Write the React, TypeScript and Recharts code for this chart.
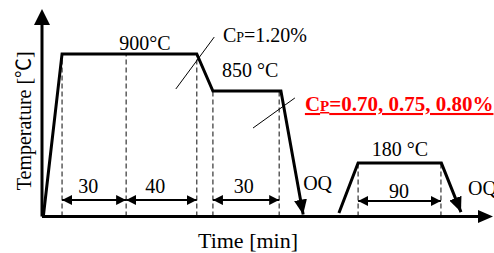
import React from 'react';
import { ComposedChart, Line, Scatter, XAxis, YAxis, ReferenceLine } from 'recharts';

// Schematic heat-treatment profile (x: schematic time position, y: schematic temperature level)
const profileHeat = [
  { x: 0.3, y: 0 },
  { x: 4.6, y: 84.9 },
  { x: 35.5, y: 84.9 },
  { x: 39.2, y: 65.5 },
  { x: 54.8, y: 65.5 },
  { x: 59.9, y: 1.0 },
];
const profileTemper = [
  { x: 68.1, y: 1.8 },
  { x: 72.5, y: 27.9 },
  { x: 91.6, y: 27.9 },
  { x: 96.1, y: 2.3 },
];

// Dashed guides: x position and top level
const guideX = [4.6, 19.3, 35.5, 39.2, 54.4, 72.5, 91.5];
const guideTop = [84.9, 84.9, 84.9, 65.5, 65.5, 27.9, 27.9];

// Duration spans (double arrows)
const spanFrom = [4.6, 19.3, 39.2, 72.5];
const spanTo = [19.3, 35.5, 54.4, 91.5];
const spanY = [8.6, 8.6, 8.6, 8.1];
const durations = ['30', '40', '30', '90'];
const durationLabelX = [10.6, 26.0, 46.3, 81.9];
const durationLabelY = [12.3, 12.3, 12.3, 9.7];

// Pointer lines for the carbon potential notes
const pointers = [
  { x1: 30.7, y1: 66.6, x2: 39.5, y2: 93.7 },
  { x1: 48.4, y1: 46.2, x2: 58.0, y2: 61.9 },
];

const annotations = [
  { x: 23.6, y: 86.9, text: '900°C', anchor: 'middle', kind: 'plain' },
  { x: 41.5, y: 91.1, text: '=1.20%', anchor: 'start', kind: 'cp' },
  { x: 41.3, y: 72.9, text: '850 °C', anchor: 'start', kind: 'plain' },
  { x: 60.3, y: 55.1, text: '=0.70, 0.75, 0.80%', anchor: 'start', kind: 'cpRed' },
  { x: 82.1, y: 31.6, text: '180 °C', anchor: 'middle', kind: 'plain' },
  { x: 59.9, y: 13.8, text: 'OQ', anchor: 'start', kind: 'plain' },
  { x: 97.7, y: 11.2, text: 'OQ', anchor: 'start', kind: 'plain' },
  ...durations.map((d, i) => ({ x: durationLabelX[i], y: durationLabelY[i], text: d, anchor: 'middle', kind: 'plain' })),
];

const SERIF = '"Liberation Serif", "Times New Roman", serif';

const AnnotationShape = (props: any) => {
  const { cx, cy, payload } = props;
  if (cx == null || cy == null) return null;
  if (payload.kind === 'cp') {
    return (
      <text x={cx} y={cy} fontFamily={SERIF} fontSize={20} fill="#000" textAnchor="start">
        C<tspan fontSize={14}>P</tspan>{payload.text}
      </text>
    );
  }
  if (payload.kind === 'cpRed') {
    return (
      <text
        x={cx}
        y={cy}
        fontFamily={SERIF}
        fontSize={21}
        fontWeight="bold"
        fill="#ff0000"
        textAnchor="start"
        style={{ textDecoration: 'underline' }}
      >
        C<tspan fontSize={15}>P</tspan>{payload.text}
      </text>
    );
  }
  return (
    <text x={cx} y={cy} fontFamily={SERIF} fontSize={20} fill="#000" textAnchor={payload.anchor}>
      {payload.text}
    </text>
  );
};

const YLabel = (props: any) => {
  const vb = props.viewBox || { x: 0, y: 0, width: 0, height: 0 };
  const x = vb.x + 31;
  const y = vb.y + vb.height / 2;
  return (
    <text
      x={x}
      y={y}
      transform={`rotate(-90, ${x}, ${y})`}
      textAnchor="middle"
      fontFamily={`${SERIF}, "Noto Sans CJK JP"`}
      fontSize={20}
      fill="#000"
    >
      Temperature [℃]
    </text>
  );
};

const XLabel = (props: any) => {
  const vb = props.viewBox || { x: 0, y: 0, width: 0, height: 0 };
  return (
    <text x={vb.x + vb.width / 2 - 12} y={vb.y + 31.5} textAnchor="middle" fontFamily={SERIF} fontSize={22} fill="#000">
      Time [min]
    </text>
  );
};

const Markers = () => (
  <svg width={0} height={0} style={{ position: 'absolute', left: 0, top: 0 }}>
    <defs>
      <marker id="oqHead" viewBox="0 0 15 13" refX={15} refY={6.5} markerWidth={15} markerHeight={13} markerUnits="userSpaceOnUse" orient="auto">
        <path d="M0,0 L15,6.5 L0,13 z" fill="#000" />
      </marker>
      <marker id="dblHead" viewBox="0 0 10 10" refX={10} refY={5} markerWidth={10} markerHeight={10} markerUnits="userSpaceOnUse" orient="auto-start-reverse">
        <path d="M0,0 L10,5 L0,10 z" fill="#000" />
      </marker>
      <marker id="axisXHead" viewBox="0 0 15 13" refX={0} refY={6.5} markerWidth={15} markerHeight={13} markerUnits="userSpaceOnUse" orient="auto">
        <path d="M0,0 L15,6.5 L0,13 z" fill="#000" />
      </marker>
      <marker id="axisYHead" viewBox="0 0 16 16" refX={0} refY={8} markerWidth={16} markerHeight={16} markerUnits="userSpaceOnUse" orient="auto-start-reverse">
        <path d="M0,0 L16,8 L0,16 z" fill="#000" />
      </marker>
    </defs>
  </svg>
);

export default function App() {
  return (
    <div style={{ position: 'absolute', left: 0, top: 0, width: 494, height: 253, background: '#fff' }}>
      <Markers />
      <ComposedChart width={494} height={253} margin={{ top: 25, right: 16, left: 0, bottom: 0 }}>
        <XAxis
          type="number"
          dataKey="x"
          domain={[0, 100]}
          tick={false}
          tickLine={false}
          height={36.5}
          axisLine={{ stroke: '#000', strokeWidth: 3, markerEnd: 'url(#axisXHead)' }}
          label={{ content: XLabel }}
        />
        <YAxis
          type="number"
          dataKey="y"
          domain={[0, 100]}
          tick={false}
          tickLine={false}
          width={42}
          axisLine={{ stroke: '#000', strokeWidth: 3, markerStart: 'url(#axisYHead)' }}
          label={{ content: YLabel }}
        />
        {guideX.map((gx, i) => (
          <ReferenceLine
            key={`g${i}`}
            segment={[{ x: gx, y: 0 }, { x: gx, y: guideTop[i] }]}
            stroke="#333"
            strokeWidth={1.2}
            strokeDasharray="5 3"
          />
        ))}
        {spanFrom.map((f, i) => (
          <ReferenceLine
            key={`s${i}`}
            segment={[{ x: f, y: spanY[i] }, { x: spanTo[i], y: spanY[i] }]}
            stroke="#000"
            strokeWidth={2}
            markerStart="url(#dblHead)"
            markerEnd="url(#dblHead)"
          />
        ))}
        {pointers.map((p, i) => (
          <ReferenceLine
            key={`p${i}`}
            segment={[{ x: p.x1, y: p.y1 }, { x: p.x2, y: p.y2 }]}
            stroke="#000"
            strokeWidth={1}
          />
        ))}
        <Line
          data={profileHeat}
          dataKey="y"
          type="linear"
          stroke="#000"
          strokeWidth={3}
          dot={false}
          activeDot={false}
          isAnimationActive={false}
          markerEnd="url(#oqHead)"
        />
        <Line
          data={profileTemper}
          dataKey="y"
          type="linear"
          stroke="#000"
          strokeWidth={3}
          dot={false}
          activeDot={false}
          isAnimationActive={false}
          markerEnd="url(#oqHead)"
        />
        <Scatter data={annotations} dataKey="y" shape={AnnotationShape} isAnimationActive={false} />
      </ComposedChart>
    </div>
  );
}
